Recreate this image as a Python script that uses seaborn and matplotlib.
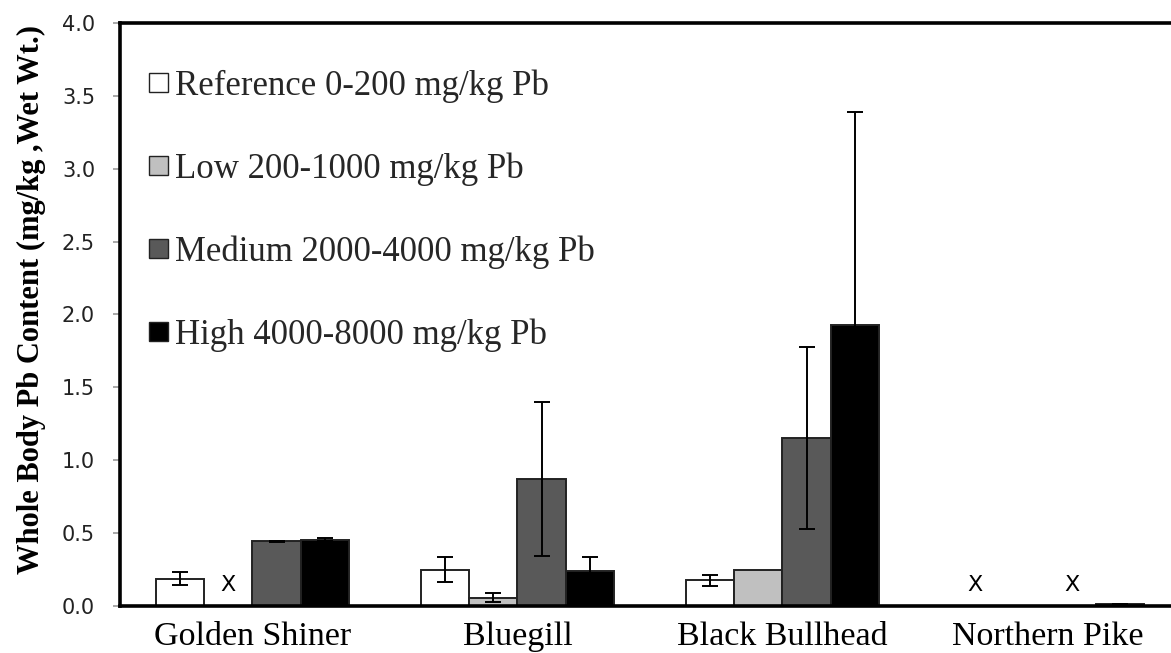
import numpy as np
import pandas as pd
import matplotlib
matplotlib.use("Agg")
import matplotlib.pyplot as plt
from matplotlib.patches import Patch
from matplotlib.container import BarContainer
import seaborn as sns

# Fish species and soil lead exposure classes
categories = ["Golden Shiner", "Bluegill", "Black Bullhead", "Northern Pike"]
levels = ["Reference 0-200 mg/kg Pb", "Low 200-1000 mg/kg Pb",
          "Medium 2000-4000 mg/kg Pb", "High 4000-8000 mg/kg Pb"]

# Mean whole-body Pb (mg/kg wet wt.) and error; NaN = not collected (marked X)
reference_mean = [0.187, 0.250, 0.175, np.nan]
reference_err = [0.043, 0.083, 0.035, np.nan]
low_mean = [np.nan, 0.057, 0.245, 0.0]
low_err = [np.nan, 0.032, 0.0, 0.0]
medium_mean = [0.445, 0.872, 1.152, np.nan]
medium_err = [0.004, 0.526, 0.625, np.nan]
high_mean = [0.455, 0.242, 1.926, 0.012]
high_err = [0.010, 0.094, 1.465, 0.004]

yticks = [0.0, 0.5, 1.0, 1.5, 2.0, 2.5, 3.0, 3.5, 4.0]

means = [reference_mean, low_mean, medium_mean, high_mean]
errs = [reference_err, low_err, medium_err, high_err]
colors = ["#FFFFFF", "#C0C0C0", "#595959", "#000000"]

rows = []
for lvl, m in zip(levels, means):
    for cat, v in zip(categories, m):
        rows.append({"species": cat, "level": lvl, "pb": v})
df = pd.DataFrame(rows)
df["pb_plot"] = df["pb"].fillna(0.0)

sns.set_theme(style="white")
plt.rcParams["font.family"] = ["DejaVu Sans"]

fig = plt.figure(figsize=(11.71, 6.53), dpi=100)
ax = fig.add_axes([0.1025, 0.072, 0.905, 0.8928])

palette = dict(zip(levels, colors))
sns.barplot(data=df, x="species", y="pb_plot", hue="level",
            order=categories, hue_order=levels, palette=palette,
            saturation=1, width=0.73, edgecolor="#222222", linewidth=1.4,
            errorbar=None, legend=False, ax=ax)

bar_sets = [c for c in ax.containers if isinstance(c, BarContainer)]

# Error bars and "X" markers for species not collected at a site class
for j, cont in enumerate(bar_sets):
    for i, p in enumerate(cont.patches):
        cx = p.get_x() + p.get_width() / 2
        val = means[j][i]
        if np.isnan(val):
            ax.annotate("X", xy=(cx, 0), xytext=(0, 15), textcoords="offset points",
                        ha="center", va="center", fontsize=16, color="black",
                        family="DejaVu Sans")
        elif errs[j][i] > 0:
            ax.errorbar(cx, val, yerr=errs[j][i], fmt="none", ecolor="black",
                        elinewidth=1.4, capsize=5.5, capthick=1.4, zorder=5)

ax.set_xlim(-0.5, 3.5)
ax.set_ylim(0, 4.0)
ax.set_yticks(yticks)
ax.set_yticklabels([f"{t:.1f}" for t in yticks], fontsize=15, color="#222222")
ax.tick_params(axis="y", which="major", left=True, length=5, width=1.2,
               color="#999999", pad=13)
ax.tick_params(axis="x", length=0, pad=11)
ax.set_xticks(range(len(categories)))
ax.set_xticklabels(categories, family="Liberation Serif", fontsize=24.5, color="black")
ax.set_xlabel("")
ax.set_ylabel("Whole Body Pb Content (mg/kg ,Wet Wt.)", family="Liberation Serif",
              fontweight="bold", fontsize=22, color="black")
ax.yaxis.set_label_coords(-0.07, 0.525)

for s in ax.spines.values():
    s.set_visible(True)
    s.set_color("black")
    s.set_linewidth(2.6)

handles = [Patch(facecolor=c, edgecolor="#222222", linewidth=1.0) for c in colors]
ax.legend(handles, levels, loc="upper left", bbox_to_anchor=(0.027, 0.921),
          frameon=False, prop={"family": "Liberation Serif", "size": 25},
          handlelength=0.55, handleheight=0.45, handletextpad=0.2,
          labelspacing=1.43, borderpad=0, borderaxespad=0)

fig.savefig("out.png", dpi=100)
